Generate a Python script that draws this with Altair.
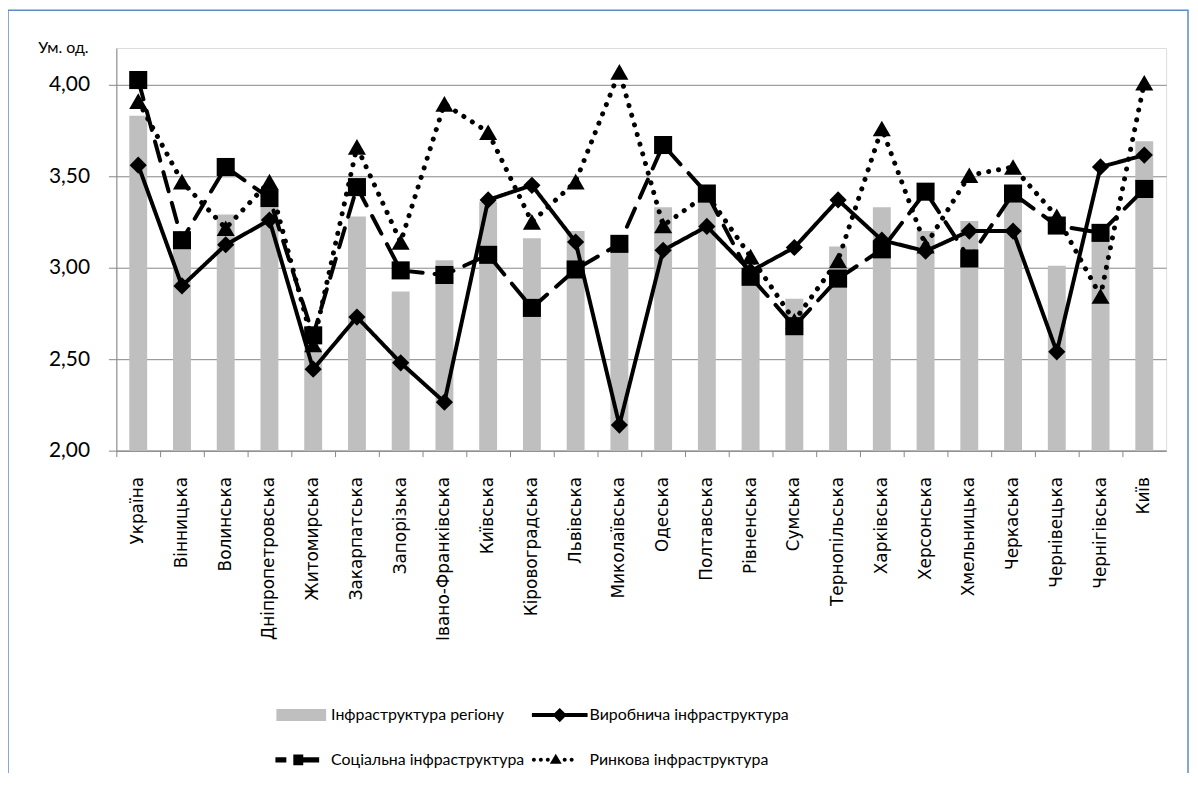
import altair as alt
import pandas as pd

regions = ["Україна", "Вінницька", "Волинська", "Дніпропетровська", "Житомирська",
           "Закарпатська", "Запорізька", "Івано-Франківська", "Київська", "Кіровоградська",
           "Львівська", "Миколаївська", "Одеська", "Полтавська", "Рівненська", "Сумська",
           "Тернопільська", "Харківська", "Херсонська", "Хмельницька", "Черкаська",
           "Чернівецька", "Чернігівська", "Київ"]

infra_region = [3.83, 3.12, 3.29, 3.33, 2.56, 3.28, 2.87, 3.04, 3.36, 3.16, 3.20, 3.10,
                3.33, 3.37, 2.98, 2.83, 3.115, 3.33, 3.20, 3.255, 3.38, 3.01, 3.16, 3.69]
production = [3.56, 2.90, 3.125, 3.26, 2.445, 2.73, 2.48, 2.265, 3.37, 3.45, 3.14, 2.14,
              3.095, 3.225, 2.98, 3.11, 3.37, 3.15, 3.09, 3.20, 3.20, 2.54, 3.55, 3.615]
social = [4.025, 3.15, 3.55, 3.38, 2.63, 3.44, 2.985, 2.96, 3.07, 2.78, 2.99, 3.13,
          3.67, 3.405, 2.95, 2.68, 2.94, 3.10, 3.415, 3.05, 3.405, 3.23, 3.19, 3.43]
market = [3.91, 3.47, 3.215, 3.47, 2.58, 3.66, 3.14, 3.895, 3.74, 3.25, 3.47, 4.07,
          3.23, 3.40, 3.06, 2.71, 3.04, 3.76, 3.12, 3.505, 3.55, 3.28, 2.845, 4.01]

series_names = ["Інфраструктура регіону", "Виробнича інфраструктура",
                "Соціальна інфраструктура", "Ринкова інфраструктура"]
y_ticks = [2.0, 2.5, 3.0, 3.5, 4.0]

df = pd.DataFrame({"region": regions, "infra": infra_region, "prod": production,
                   "social": social, "market": market})

W, H = 1056, 405
x = alt.X("region:N", sort=regions,
          scale=alt.Scale(paddingInner=0, paddingOuter=0),
          axis=alt.Axis(title=None, labelAngle=-90, labelFont="DejaVu Sans", labelFontSize=17,
                        labelColor="black", labelPadding=20, tickSize=6, bandPosition=0,
                        tickColor="#868686", domainColor="#868686", labelBound=False,
                        labelOverlap=False, labelLimit=0, grid=False))
yscale = alt.Scale(domain=[2.0, 4.2], nice=False, zero=False)
yaxis = alt.Axis(values=y_ticks, grid=True, gridColor="#868686", gridWidth=1,
                 labelExpr="replace(format(datum.value, '.2f'), '.', ',')",
                 labelFont="Lato", labelFontSize=21, labelColor="black", labelPadding=19,
                 tickSize=8, tickColor="#868686", domainColor="#868686",
                 title="Ум. од.", titleAngle=0, titleAlign="left", titleBaseline="middle",
                 titleX=-79, titleY=0, titleFont="Lato", titleFontSize=16,
                 titleFontWeight="normal", titleColor="black")

base = alt.Chart(df)
bars = base.mark_bar(color="#BFBFBF", size=18).encode(
    x=x, y=alt.Y("infra:Q", scale=yscale, axis=yaxis), y2=alt.datum(2.0))

def series(field, dash, shape, size, width=3.5, cap="butt"):
    line = base.mark_line(color="black", strokeWidth=width, strokeDash=dash, strokeCap=cap).encode(
        x=x, y=alt.Y(f"{field}:Q", scale=yscale))
    pts = base.mark_point(shape=shape, size=size, filled=True, color="black", opacity=1).encode(
        x=x, y=alt.Y(f"{field}:Q", scale=yscale))
    return [line, pts]

layers = [bars]
layers += series("prod", [1, 0], "diamond", 300, 4)
layers += series("social", [20, 12], "square", 330, 4, "round")
layers += series("market", [0.1, 10], "triangle-up", 330, 5, "round")

def dot(cx, r=0.1):
    return f"M{cx - r},0a{r},{r} 0 1,0 {2 * r},0a{r},{r} 0 1,0 {-2 * r},0Z"

sym_bar = "M-1.25,-0.3L1.25,-0.3L1.25,0.3L-1.25,0.3Z"
sym_prod = "M-1.4,-0.1L1.4,-0.1L1.4,0.1L-1.4,0.1ZM0,-0.36L0.36,0L0,0.36L-0.36,0Z"
sym_social = ("M-1.3,-0.13L-0.75,-0.13L-0.75,0.13L-1.3,0.13Z"
              "M-0.4,-0.27L0.1,-0.27L0.1,0.27L-0.4,0.27Z"
              "M0.1,-0.13L0.9,-0.13L0.9,0.13L0.1,0.13Z")
sym_market = (dot(-1.3) + dot(-0.95) + dot(-0.6) +
              "M-0.2,-0.3L0.1,0.2L-0.5,0.2Z" + dot(0.25) + dot(0.6))

leg_df = pd.DataFrame({"series": series_names, "v": [0.0] * 4, "region": [regions[0]] * 4})
legend_layer = alt.Chart(leg_df).mark_point(filled=True, clip=True, opacity=1).encode(
    x=x, y=alt.Y("v:Q", scale=yscale),
    color=alt.Color("series:N", sort=series_names,
                    scale=alt.Scale(domain=series_names,
                                    range=["#BFBFBF", "black", "black", "black"]),
                    legend=alt.Legend(title=None, orient="none", legendX=166, legendY=651,
                                      columns=2, direction="horizontal",
                                      symbolSize=1600, symbolStrokeWidth=0,
                                      labelFont="Lato", labelFontSize=16, labelColor="black",
                                      labelOffset=10, labelLimit=0, columnPadding=6,
                                      rowPadding=17, symbolOpacity=1)),
    shape=alt.Shape("series:N", sort=series_names,
                    scale=alt.Scale(domain=series_names,
                                    range=[sym_bar, sym_prod, sym_social, sym_market]),
                    legend=None))

frame = alt.Chart(pd.DataFrame({"a": [0]})).mark_rect(
    fill=None, stroke="#5B8BC9", strokeWidth=1.5).encode(
    x=alt.value(-109), x2=alt.value(1078), y=alt.value(-38), y2=alt.value(800))

chart = alt.layer(frame, *layers, legend_layer).properties(
    width=W, height=H,
    autosize=alt.AutoSizeParams(type="none"),
    padding={"left": 109, "top": 38, "right": 24, "bottom": 322},
).configure_view(stroke=None).configure(background="white")

chart.save("out.html", embed_options={"renderer": "svg", "actions": False})
